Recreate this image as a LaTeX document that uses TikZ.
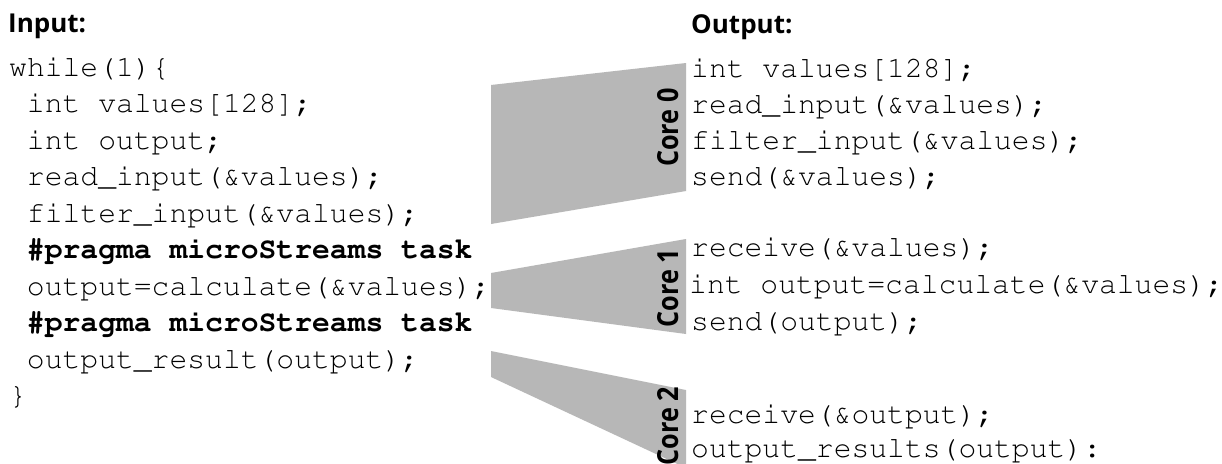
\documentclass[tikz,border=0pt]{standalone}
\usepackage[T1]{fontenc}
\usepackage{fontspec}
\usepackage{graphicx}
\newfontfamily\headfont{Open Sans}
% Courier (Nimbus Mono) for the code listings
\newcommand\codefont{\fontencoding{T1}\fontfamily{pcr}\fontseries{m}\fontshape{n}\fontsize{29.7}{36}\selectfont}
\definecolor{coreshade}{RGB}{183,183,183}
\tikzset{
  heading/.style={anchor=base west, inner sep=0pt, font=\headfont\bfseries\fontsize{26}{30}\selectfont},
  code/.style={anchor=base west, inner sep=0pt, font=\codefont},
  pragma/.style={code, font=\codefont\bfseries},
  corelabel/.style={rotate=90, inner sep=0pt, font=\headfont\bfseries\fontsize{29}{29}\selectfont},
  band/.style={fill=coreshade},
}
\begin{document}
\begin{tikzpicture}[x=1pt,y=-1pt]
\clip (0,0) rectangle (1222,463);
\fill[white] (0,0) rectangle (1222,463);

% mapping bands from the input program to the cores
\fill[band] (491,85) -- (686,63) -- (686,191) -- (491,224) -- cycle;
\fill[band] (491,273) -- (686,239) -- (686,334) -- (491,308) -- cycle;
\fill[band] (491,351) -- (686,390) -- (686,468) -- (491,377) -- cycle;

\node[corelabel] (core0) at (668,127.5) {\scalebox{0.87}[1]{Core 0}};
\node[corelabel] (core1) at (668,288) {\scalebox{0.87}[1]{Core 1}};
\node[corelabel] (core2) at (668,426) {\scalebox{0.87}[1]{Core 2}};

% input program
\node[heading] (inhead) at (8,32) {Input:};
\node[code] (in1) at (9,76) {while(1)\{};
\node[code] (in2) at (26.8,112.5) {int values[128];};
\node[code] (in3) at (26.8,149) {int output;};
\node[code] (in4) at (26.8,185.5) {read\_input(\&values);};
\node[code] (in5) at (26.8,222) {filter\_input(\&values);};
\node[pragma] (in6) at (26.8,258.5) {\#pragma microStreams task};
\node[code] (in7) at (26.8,295) {output=calculate(\&values);};
\node[pragma] (in8) at (26.8,331.5) {\#pragma microStreams task};
\node[code] (in9) at (26.8,368) {output\_result(output);};
\node[code] (in10) at (9,404.5) {\}};

% output programs
\node[heading] (outhead) at (691,33) {Output:};
\node[code] (a1) at (691,77) {int values[128];};
\node[code] (a2) at (691,113) {read\_input(\&values);};
\node[code] (a3) at (691,149) {filter\_input(\&values);};
\node[code] (a4) at (691,185) {send(\&values);};
\node[code] (b1) at (691,256) {receive(\&values);};
\node[code] (b2) at (689,293) {int output=calculate(\&values);};
\node[code] (b3) at (691,330) {send(output);};
\node[code] (c1) at (691,423) {receive(\&output);};
\node[code] (c2) at (691,457) {output\_results(output):};
\end{tikzpicture}
\end{document}
